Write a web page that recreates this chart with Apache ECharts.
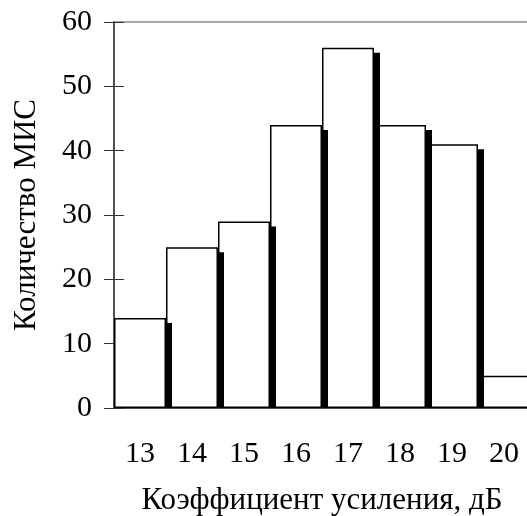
<!DOCTYPE html>
<html lang="ru">
<head>
    <meta charset="utf-8" />
    <title>Коэффициент усиления</title>
    <script src="https://cdn.jsdelivr.net/npm/echarts@6/dist/echarts.min.js"></script>
    <style>
        html, body { margin: 0; padding: 0; background: #fff; }
    </style>
</head>
<body>
    <div id="main" style="width: 527px;height:516px;"></div>
    <script type="text/javascript">

        // data
        var gains = ['13', '14', '15', '16', '17', '18', '19', '20'];
        var counts = [14, 25, 29, 44, 56, 44, 41, 5];
        var yTicks = [0, 10, 20, 30, 40, 50, 60];

        var font = '"Liberation Serif", "Times New Roman", serif';

        var myChart = echarts.init(document.getElementById('main'));

        // black strip on the right side of every bar (the old Excel "shadow")
        function renderShadow(params, api) {
            var idx = api.value(0);
            var top = api.coord([idx, api.value(1)]);
            var base = api.coord([idx, 0]);
            var w = api.size([1, 0])[0];
            var y0 = top[1] + 5;
            return {
                type: 'rect',
                shape: { x: top[0] + w / 2, y: y0, width: 6, height: base[1] - y0 },
                style: { fill: '#000' }
            };
        }

        option = {
            animation: false,
            grid: {
                left: 114, top: 22, width: 416, height: 386,
                outerBoundsMode: 'none',
                containLabel: false,
                show: true, borderColor: '#8a8a8a', borderWidth: 1.5,
                backgroundColor: 'transparent'
            },
            xAxis: {
                type: 'category',
                data: gains,
                name: 'Коэффициент усиления, дБ',
                nameLocation: 'middle',
                nameGap: 77,
                nameTextStyle: { fontFamily: font, fontSize: 31, color: '#000' },
                axisLine: { lineStyle: { color: '#333', width: 1.5 } },
                axisTick: { length: 10, lineStyle: { color: '#333' } },
                axisLabel: { fontFamily: font, fontSize: 30, color: '#000', margin: 31 }
            },
            yAxis: [{
                type: 'value',
                min: yTicks[0],
                max: yTicks[yTicks.length - 1],
                interval: 10,
                name: 'Количество МИС',
                nameLocation: 'middle',
                nameGap: 72,
                nameTextStyle: { fontFamily: font, fontSize: 31, color: '#000' },
                axisLine: { show: true, lineStyle: { color: '#333', width: 1.5 } },
                axisTick: { show: true, length: 10, lineStyle: { color: '#333' } },
                axisLabel: { fontFamily: font, fontSize: 30, color: '#000', margin: 22 },
                splitLine: { show: false }
            }, {
                // inner half of the crossing ticks
                type: 'value',
                position: 'left',
                min: yTicks[0],
                max: yTicks[yTicks.length - 1],
                interval: 10,
                axisLine: { show: false },
                axisTick: { show: true, inside: true, length: 10, lineStyle: { color: '#333' } },
                axisLabel: { show: false },
                splitLine: { show: false }
            }],
            series: [{
                type: 'bar',
                data: counts,
                barCategoryGap: 0,
                itemStyle: { color: '#fff', borderColor: '#000', borderWidth: 1.5 },
                z: 2
            }, {
                type: 'custom',
                data: counts.map(function (v, i) { return [i, v]; }),
                renderItem: renderShadow,
                clip: true,
                z: 3
            }]
        };

        myChart.setOption(option);

    </script>
</body>
</html>
